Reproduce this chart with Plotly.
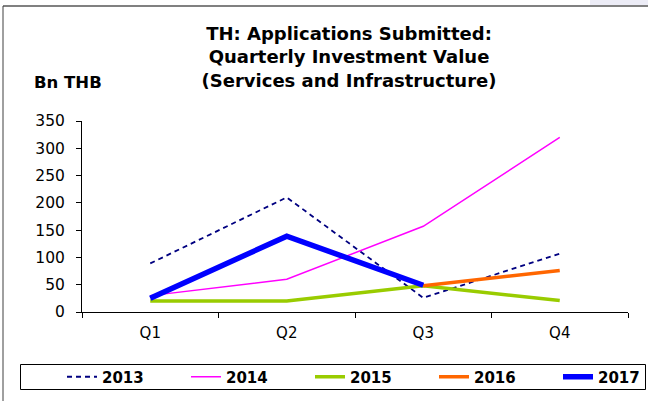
import plotly.graph_objects as go

quarters = ["Q1", "Q2", "Q3", "Q4"]
y2013 = [89, 210, 26, 107]
y2014 = [30, 60, 157, 320]
y2015 = [20, 20, 48, 21]
y2016 = [None, None, 48, 76]
y2017 = [25, 139, 49, None]

y_ticks = [0, 50, 100, 150, 200, 250, 300, 350]

FONT = "DejaVu Sans, Arial, sans-serif"

fig = go.Figure()
fig.add_trace(go.Scatter(x=quarters, y=y2013, name="2013", mode="lines",
                         line=dict(color="#000080", width=1.8, dash="5px,4px")))
fig.add_trace(go.Scatter(x=quarters, y=y2014, name="2014", mode="lines",
                         line=dict(color="#FF00FF", width=1.5)))
fig.add_trace(go.Scatter(x=quarters, y=y2015, name="2015", mode="lines",
                         line=dict(color="#99CC00", width=3.5)))
fig.add_trace(go.Scatter(x=quarters, y=y2016, name="2016", mode="lines",
                         line=dict(color="#FF6600", width=3.5)))
fig.add_trace(go.Scatter(x=quarters, y=y2017, name="2017", mode="lines",
                         line=dict(color="#0000FF", width=5.5)))

W, H = 648, 401
L, R, T, B = 82, 20, 121, 89
pw = W - L - R
ph = H - T - B

def px_x(x):
    return (x - L) / pw

def px_y(y):
    return (H - B - y) / ph

fig.update_layout(
    width=W, height=H,
    margin=dict(l=L, r=R, t=T, b=B, autoexpand=False),
    paper_bgcolor="white", plot_bgcolor="white",
    font=dict(family=FONT, color="black", size=15),
    title=dict(text="<b>TH: Applications Submitted:<br>Quarterly Investment Value<br>(Services and Infrastructure)</b>",
               x=349 / W, xanchor="center", y=1 - 40 / H, yanchor="middle",
               font=dict(family=FONT, size=18, color="black")),
    xaxis=dict(type="category", categoryorder="array", categoryarray=quarters,
               range=[-0.5, 3.5], showgrid=False, zeroline=False,
               showline=True, linecolor="black", linewidth=1,
               ticks="outside", ticklen=5, tickcolor="black", tickson="boundaries",
               ticklabelstandoff=7,
               tickfont=dict(size=15, family=FONT, color="black")),
    yaxis=dict(range=[0, 350], tickvals=y_ticks, showgrid=False, zeroline=False,
               showline=True, linecolor="black", linewidth=1,
               ticks="outside", ticklen=5, tickcolor="black",
               ticklabelstandoff=8,
               tickfont=dict(size=15.5, family=FONT, color="black")),
    legend=dict(orientation="h", x=px_x(62), xanchor="left", y=px_y(377), yanchor="middle",
                borderwidth=0, bgcolor="rgba(0,0,0,0)",
                entrywidth=79, entrywidthmode="pixels",
                font=dict(size=15, family=FONT, color="black", weight="bold"),
                itemwidth=30, tracegroupgap=0),
    annotations=[dict(text="<b>Bn THB</b>", xref="paper", yref="paper",
                      x=px_x(32), xanchor="left", y=px_y(82), yanchor="middle",
                      showarrow=False, font=dict(size=16.5, family=FONT, color="black"))],
    shapes=[
        dict(type="rect", xref="paper", yref="paper", x0=px_x(590), x1=px_x(648),
             y0=px_y(5), y1=px_y(0), fillcolor="#ECECF6", line=dict(width=0), layer="below"),
        dict(type="line", xref="paper", yref="paper", x0=px_x(3), x1=px_x(648),
             y0=px_y(6), y1=px_y(6), line=dict(color="#808080", width=2)),
        dict(type="line", xref="paper", yref="paper", x0=px_x(3), x1=px_x(3),
             y0=px_y(6), y1=px_y(401), line=dict(color="#404040", width=1)),
        dict(type="rect", xref="paper", yref="paper", x0=px_x(20.5), x1=px_x(645.5),
             y0=px_y(364.5), y1=px_y(389.5), line=dict(color="black", width=1),
             fillcolor="rgba(0,0,0,0)"),
    ],
)

fig.write_html("out.html", config={"displayModeBar": False},
               post_script="document.body.style.margin='0';document.body.style.padding='0';")
